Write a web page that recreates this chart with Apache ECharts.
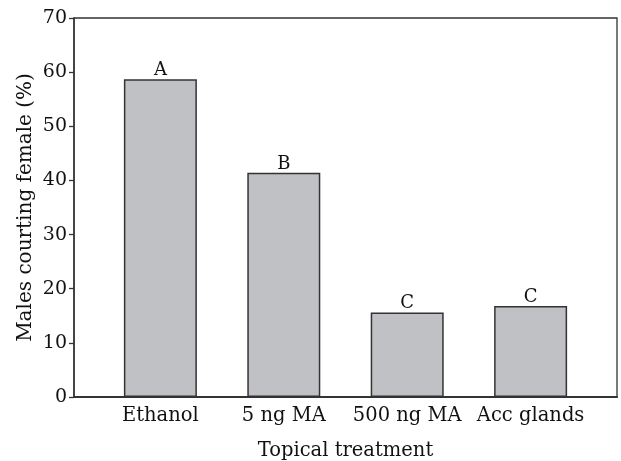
<!DOCTYPE html>
<html><head><meta charset="utf-8">
<script src="https://cdn.jsdelivr.net/npm/echarts@6/dist/echarts.min.js"></script>
<style>html,body{margin:0;padding:0;background:#fff}#c{width:621px;height:461px}</style>
</head><body><div id="c"></div>
<script>
var categories = ["Ethanol", "5 ng MA", "500 ng MA", "Acc glands"];
var values = [58.7, 41.4, 15.6, 16.8];
var letters = ["A", "B", "C", "C"];
var yTicks = [0, 10, 20, 30, 40, 50, 60, 70];

var font = "DejaVu Serif";
var chart = echarts.init(document.getElementById('c'), null, {renderer: 'canvas'});
var idx = categories.map(function (c, i) { return i; });
chart.setOption({
  animation: false,
  grid: {left: 74, right: 4, top: 18, bottom: 64, show: true, borderColor: '#333', borderWidth: 1.3,
    containLabel: false, outerBoundsMode: 'none'},
  xAxis: {
    type: 'value', min: -0.7, max: 3.7,
    name: 'Topical treatment', nameLocation: 'middle', nameGap: 44,
    nameTextStyle: {fontFamily: font, fontSize: 19.5, color: '#111'},
    splitLine: {show: false},
    axisLine: {show: true, onZero: false, lineStyle: {color: '#333', width: 2}},
    axisTick: {show: true, inside: true, length: 5, customValues: idx, lineStyle: {color: '#333', width: 1.3}},
    axisLabel: {customValues: idx, fontFamily: font, fontSize: 19.5, color: '#111', margin: 9,
      formatter: function (v) { return categories[Math.round(v)]; }}
  },
  yAxis: {
    type: 'value', min: 0, max: 70, interval: 10,
    name: 'Males courting female (%)', nameLocation: 'middle', nameGap: 38, nameMoveOverlap: false,
    nameTextStyle: {fontFamily: font, fontSize: 20, color: '#111'},
    splitLine: {show: false},
    axisLine: {show: true, onZero: false, lineStyle: {color: '#333', width: 1.5}},
    axisTick: {show: true, inside: false, length: 5, customValues: yTicks, lineStyle: {color: '#333', width: 1.3}},
    axisLabel: {customValues: yTicks, fontFamily: font, fontSize: 19, color: '#111', margin: 7}
  },
  series: [{
    type: 'bar', barWidth: 73,
    data: values.map(function (v, i) { return [i, v]; }),
    itemStyle: {color: '#c0c1c5', borderColor: '#333', borderWidth: 1.5},
    label: {show: true, position: 'top', distance: 0, fontFamily: font, fontSize: 18, color: '#111',
      formatter: function (p) { return letters[p.dataIndex]; }}
  }]
});
</script></body></html>
